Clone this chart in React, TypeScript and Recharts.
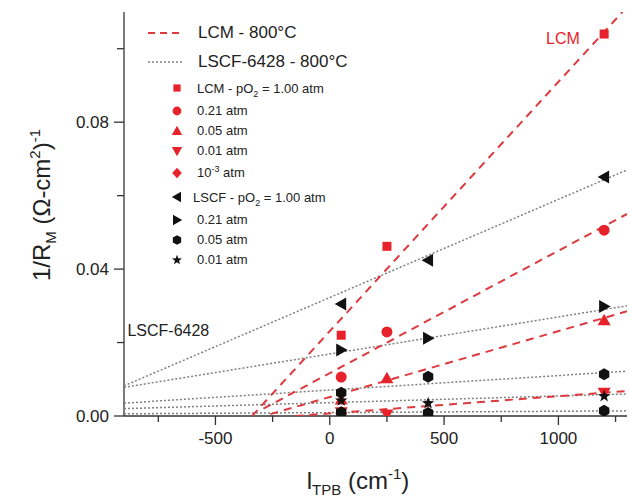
import React from 'react';
import { ComposedChart, Scatter, XAxis, YAxis, Legend, ReferenceDot } from 'recharts';

const lcmX = [50, 250, 1200];
const lcm100 = [0.022, 0.0462, 0.104];
const lcm021 = [0.0106, 0.0229, 0.0506];
const lcm005 = [0.0045, 0.0103, 0.0261];
const lcm001 = [0.001, 0.0004, 0.0063];
const lcm1e3X = [50];
const lcm1e3 = [0.0008];

const lscfX = [50, 430, 1200];
const lscf100 = [0.0305, 0.0424, 0.0651];
const lscf021 = [0.018, 0.0212, 0.0298];
const lscf005 = [0.0063, 0.0107, 0.0114];
const lscf001 = [0.0042, 0.0035, 0.0054];
const lscfLow = [0.001, 0.0008, 0.0014];

// linear fits: [x start, x end] and [y start, y end]
const lcmFitX = [[-340, 1280], [-290, 1300], [-260, 1300], [-150, 1300]];
const lcmFitY = [[0, 0.11], [0.002, 0.055], [0.0005, 0.0285], [0, 0.0068]];
const lscfFitX = [-900, 1300];
const lscfFitY = [[0.0082, 0.067], [0.0078, 0.030], [0.0035, 0.0122], [0.002, 0.006], [0.0006, 0.0014]];

const xTicks = [-750, -500, -250, 0, 250, 500, 750, 1000, 1250];
const xMajor = [-500, 0, 500, 1000];
const yTicks = [0, 0.02, 0.04, 0.06, 0.08, 0.1];
const yMajor = [0, 0.04, 0.08];

const lineLabels = ['LCM - 800°C', 'LSCF-6428 - 800°C'];
const lcmLabels = ['LCM - pO2 = 1.00 atm', '0.21 atm', '0.05 atm', '0.01 atm', '10^-3 atm'];
const lscfLabels = ['LSCF - pO2 = 1.00 atm', '0.21 atm', '0.05 atm', '0.01 atm'];

const RED = '#e8222a';
const RED_LINE = '#dc3a3f';
const BLACK = '#111';
const GRAY = '#808080';

const toPts = (xs: number[], ys: number[]) => xs.map((x, i) => ({ x, y: ys[i] }));

const lcmSeries = [
  { kind: 'square', data: toPts(lcmX, lcm100) },
  { kind: 'circle', data: toPts(lcmX, lcm021) },
  { kind: 'up', data: toPts(lcmX, lcm005) },
  { kind: 'down', data: toPts(lcmX, lcm001) },
  { kind: 'diamond', data: toPts(lcm1e3X, lcm1e3) },
];
const lscfSeries = [
  { kind: 'left', data: toPts(lscfX, lscf100) },
  { kind: 'right', data: toPts(lscfX, lscf021) },
  { kind: 'hex', data: toPts(lscfX, lscf005) },
  { kind: 'star', data: toPts(lscfX, lscf001) },
  { kind: 'hex', data: toPts(lscfX, lscfLow) },
];

function Marker({ cx, cy, kind, color, s = 1 }: any) {
  if (cx == null || cy == null) return <g />;
  const k = s;
  const poly = (pts: number[][]) => (
    <polygon points={pts.map(([a, b]) => `${cx + a * k},${cy + b * k}`).join(' ')} fill={color} />
  );
  switch (kind) {
    case 'square':
      return <rect x={cx - 4.5 * k} y={cy - 4.5 * k} width={9 * k} height={9 * k} fill={color} />;
    case 'circle':
      return <circle cx={cx} cy={cy} r={5.5 * k} fill={color} />;
    case 'up':
      return poly([[0, -6.5], [6.5, 5], [-6.5, 5]]);
    case 'down':
      return poly([[-6.5, -5], [6.5, -5], [0, 6.5]]);
    case 'diamond':
      return poly([[0, -6.5], [6, 0], [0, 6.5], [-6, 0]]);
    case 'left':
      return poly([[-6.5, 0], [5, -6.5], [5, 6.5]]);
    case 'right':
      return poly([[6.5, 0], [-5, -6.5], [-5, 6.5]]);
    case 'hex':
      return poly([0, 1, 2, 3, 4, 5].map((i) => [6 * Math.cos((Math.PI / 3) * i + Math.PI / 6), 6 * Math.sin((Math.PI / 3) * i + Math.PI / 6)]));
    case 'star': {
      const pts: number[][] = [];
      for (let i = 0; i < 10; i++) {
        const r = i % 2 === 0 ? 6.5 : 2.7;
        const a = -Math.PI / 2 + (Math.PI / 5) * i;
        pts.push([r * Math.cos(a), r * Math.sin(a)]);
      }
      return poly(pts);
    }
    default:
      return <g />;
  }
}

function rich(s: string) {
  return s.split(/(pO2|10\^-3)/).map((p, i) => {
    if (p === 'pO2')
      return (
        <span key={i}>
          pO<sub style={{ fontSize: 9, lineHeight: 0 }}>2</sub>
        </span>
      );
    if (p === '10^-3')
      return (
        <span key={i}>
          10<sup style={{ fontSize: 9, lineHeight: 0 }}>-3</sup>
        </span>
      );
    return <span key={i}>{p}</span>;
  });
}

const LegendBox = () => {
  const lineRow = (label: string, color: string, dash: string, w: number) => (
    <div key={label} style={{ height: 29, display: 'flex', alignItems: 'center' }}>
      <svg width={40} height={10} style={{ marginRight: 12 }}>
        <line x1={2} y1={5} x2={38} y2={5} stroke={color} strokeWidth={w} strokeDasharray={dash} />
      </svg>
      <span style={{ fontSize: 17, color: '#222' }}>{label}</span>
    </div>
  );
  const symRow = (label: string, kind: string, color: string, pad: number) => {
    const tall = /pO2|10\^-3/.test(label);
    return (
      <div key={label + kind + color} style={{ height: tall ? 24.5 : 20, display: 'flex', alignItems: 'center' }}>
        <svg width={22} height={16} style={{ marginLeft: 20, marginRight: pad }}>
          <Marker cx={11} cy={8} kind={kind} color={color} s={0.8} />
        </svg>
        <span style={{ fontSize: 13, color: '#222' }}>{rich(label)}</span>
      </div>
    );
  };
  return (
    <div style={{ fontFamily: '"Liberation Sans", Arial, sans-serif' }}>
      {lineRow(lineLabels[0], RED_LINE, '7 5', 2)}
      {lineRow(lineLabels[1], GRAY, '2 2', 1.5)}
      {lcmLabels.map((l, i) => symRow(l, lcmSeries[i].kind, RED, 9))}
      {lscfLabels.map((l, i) => symRow(l, lscfSeries[i].kind, BLACK, i === 0 ? 5 : 9))}
    </div>
  );
};

const XTick = ({ x, y, payload }: any) => {
  const major = xMajor.includes(payload.value);
  return (
    <g>
      <line x1={x} y1={y} x2={x} y2={y + (major ? 9 : 6)} stroke="#333" strokeWidth={1.3} />
      {major && (
        <text x={x} y={y + 28} textAnchor="middle" fontSize={17} fill="#222">
          {payload.value}
        </text>
      )}
    </g>
  );
};

const YTick = ({ x, y, payload }: any) => {
  const major = yMajor.some((v) => Math.abs(v - payload.value) < 1e-9);
  return (
    <g>
      <line x1={x} y1={y} x2={x - (major ? 10 : 7)} y2={y} stroke="#333" strokeWidth={1.3} />
      {major && (
        <text x={x - 15} y={y + 6} textAnchor="end" fontSize={17} fill="#222">
          {payload.value.toFixed(2)}
        </text>
      )}
    </g>
  );
};

const XLabel = () => (
  <text x={358} y={489} textAnchor="middle" fontSize={24} fill="#222">
    l<tspan fontSize={15} dy={6}>TPB</tspan>
    <tspan dy={-6}> (cm</tspan>
    <tspan fontSize={15} dy={-10}>-1</tspan>
    <tspan dy={10}>)</tspan>
  </text>
);

const YLabel = () => (
  <text x={205} y={50} transform="rotate(-90 0 0) translate(-410 0)" textAnchor="middle" fontSize={24} fill="#222">
    1/R<tspan fontSize={15} dy={6}>M</tspan>
    <tspan dy={-6}> (Ω-cm</tspan>
    <tspan fontSize={15} dy={-10}>2</tspan>
    <tspan dy={10}>)</tspan>
    <tspan fontSize={15} dy={-10}>-1</tspan>
  </text>
);

const axisLine = { stroke: '#333', strokeWidth: 1.3 };
const noDot = () => <g />;

export default function App() {
  return (
    <div style={{ position: 'absolute', left: 0, top: 0, width: 630, height: 499, background: '#fff', fontFamily: '"Liberation Sans", Arial, sans-serif' }}>
      <ComposedChart width={630} height={499} margin={{ top: 12, right: 3, bottom: 0, left: 0 }}>
        <XAxis
          type="number"
          dataKey="x"
          domain={[-900, 1300]}
          ticks={xTicks}
          interval={0}
          height={83}
          tickSize={0}
          tickMargin={0}
          tickLine={false}
          tick={<XTick />}
          axisLine={axisLine}
          allowDataOverflow
          label={XLabel}
        />
        <XAxis xAxisId="top" orientation="top" type="number" domain={[-900, 1300]} height={0} tick={false} tickLine={false} axisLine={axisLine} />
        <YAxis
          type="number"
          dataKey="y"
          domain={[0, 0.11]}
          ticks={yTicks}
          interval={0}
          width={124}
          tickSize={0}
          tickMargin={0}
          tickLine={false}
          tick={<YTick />}
          axisLine={axisLine}
          allowDataOverflow
          label={YLabel}
        />
        <YAxis yAxisId="right" orientation="right" type="number" domain={[0, 0.11]} width={0} tick={false} tickLine={false} axisLine={axisLine} />

        {lscfFitY.map((ys, i) => (
          <Scatter
            key={'lf' + i}
            data={toPts(lscfFitX, ys)}
            line={{ stroke: GRAY, strokeWidth: 1.5, strokeDasharray: '2 2' }}
            shape={noDot}
            isAnimationActive={false}
          />
        ))}
        {lcmFitY.map((ys, i) => (
          <Scatter
            key={'rf' + i}
            data={toPts(lcmFitX[i], ys)}
            line={{ stroke: RED_LINE, strokeWidth: 2, strokeDasharray: '8 6' }}
            shape={noDot}
            isAnimationActive={false}
          />
        ))}
        {lcmSeries.map((s, i) => (
          <Scatter
            key={'lcm' + i}
            data={s.data}
            shape={(p: any) => <Marker cx={p.cx} cy={p.cy} kind={s.kind} color={RED} />}
            isAnimationActive={false}
          />
        ))}
        {lscfSeries.map((s, i) => (
          <Scatter
            key={'lscf' + i}
            data={s.data}
            shape={(p: any) => <Marker cx={p.cx} cy={p.cy} kind={s.kind} color={BLACK} />}
            isAnimationActive={false}
          />
        ))}

        <ReferenceDot
          x={1020}
          y={0.1028}
          r={0}
          ifOverflow="visible"
          label={(p: any) => (
            <text x={p.viewBox?.x ?? 0} y={(p.viewBox?.y ?? 0) + 6} textAnchor="middle" fontSize={16} fill={RED}>
              LCM
            </text>
          )}
        />
        <ReferenceDot
          x={-885}
          y={0.0234}
          r={0}
          ifOverflow="visible"
          label={(p: any) => (
            <text x={p.viewBox?.x ?? 0} y={(p.viewBox?.y ?? 0) + 6} textAnchor="start" fontSize={16} fill="#222">
              LSCF-6428
            </text>
          )}
        />

        <Legend
          layout="vertical"
          align="center"
          verticalAlign="middle"
          content={LegendBox}
          wrapperStyle={{ top: 18, left: 146, width: 260, height: 'auto' }}
        />
      </ComposedChart>
    </div>
  );
}
